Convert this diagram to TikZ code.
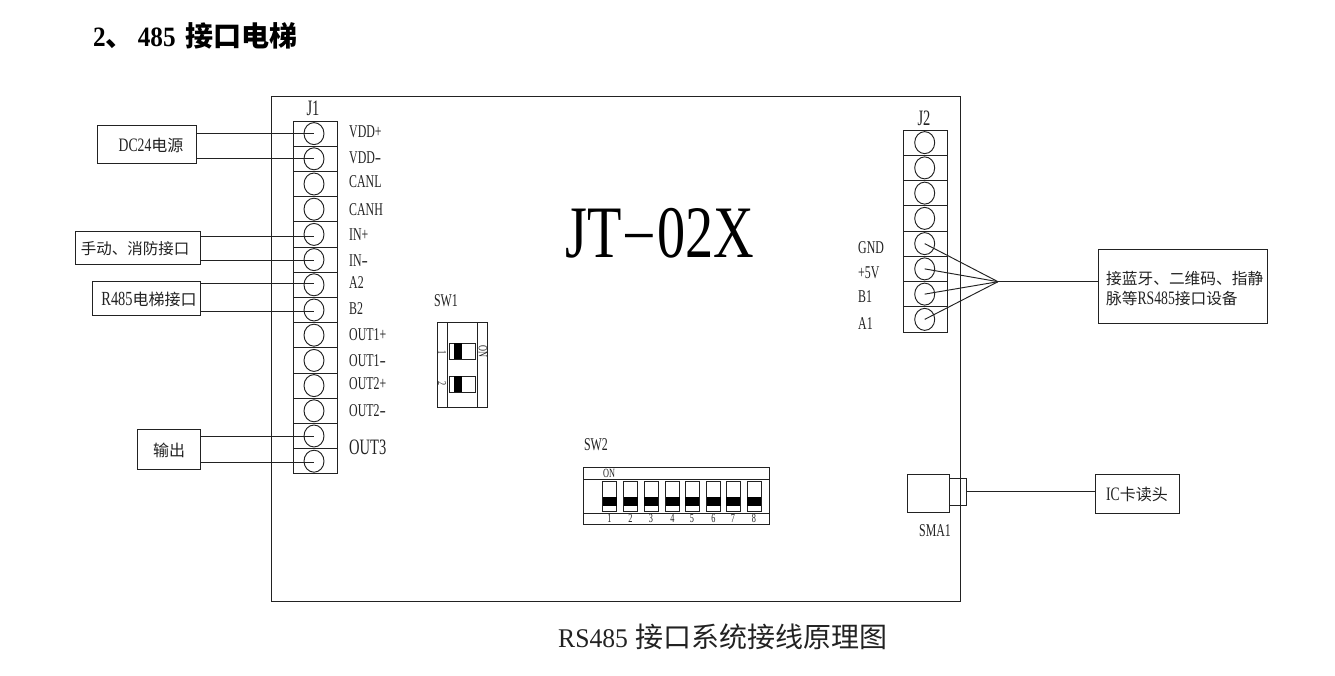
\documentclass[tikz,border=0pt]{standalone}
\usepackage{fontspec}
\usepackage{graphicx}
\usetikzlibrary{shapes.geometric}
\setmainfont{Liberation Serif}
\newfontfamily\latf[FakeStretch=0.66]{Liberation Serif}
\newfontfamily\latm[FakeStretch=0.72]{Liberation Serif}
\newfontfamily\latt[FakeStretch=0.76]{Liberation Serif}
\newfontfamily\latc[FakeStretch=0.95]{Liberation Serif}
\newfontfamily\latb[FakeStretch=0.9]{Liberation Serif}
\newfontfamily\cjkf{Noto Sans CJK SC}
\newcommand{\fsz}[1]{\fontsize{#1}{#1}\selectfont}
\newcommand{\wdash}[1]{\scalebox{#1}[1]{-}}
\definecolor{ink}{HTML}{222222}
\tikzset{
  x=1pt,y=-1pt,
  ln/.style={line width=0.95pt,draw=ink},
  box/.style={ln,rectangle,inner sep=0pt,fill=none},
  term/.style={ln,ellipse,inner sep=0pt,minimum width=20pt,minimum height=22pt},
  lab/.style={inner sep=0pt,text=ink,font=\latf\fsz{18}},
  cn/.style={inner sep=0pt,text=ink},
  tiny/.style={inner sep=0pt,text=ink,font=\latf\fsz{12.5}},
  wire/.style={ln},
  knob/.style={fill=black,draw=none,inner sep=0pt,rectangle},
}
\begin{document}
\begin{tikzpicture}
\useasboundingbox (0,0) rectangle (1335,675);
\node[inner sep=0pt,anchor=west,text=black] (title) at (93,36) {\fsz{28}{\latb\bfseries 2}{\cjkf\bfseries 、}\kern4pt{\latb\bfseries 485 }\kern4pt{\cjkf\bfseries 接口电梯}};

% board
\node[box,minimum width=688.5pt,minimum height=505pt] (board) at (616,348.5) {};
\node[inner sep=0pt,text=black,anchor=base,font=\latt\fsz{74}] (model) at (660,257) {JT\raisebox{11pt}{\scalebox{1.9}[0.6]{-}}02X};
\node[cn,anchor=west] (caption) at (558,637) {\fsz{27}{\latc RS485 }\kern1pt\fsz{28}{\cjkf 接口系统接线原理图}};

% J1
\node[lab,font=\latf\fsz{22}] (j1name) at (313,108) {J1};
\foreach \i in {1,...,14}{
  \pgfmathsetmacro{\yc}{121+25.2*(\i-0.5)}
  \node[box,minimum width=44pt,minimum height=25.2pt] (jr\i) at (315,\yc) {};
  \node[term] (a\i) at (314,\yc) {};
}
\node[lab,anchor=west] (l1) at (349,132) {VDD+};
\node[lab,anchor=west] (l2) at (349,158) {VDD\wdash{1.6}};
\node[lab,anchor=west] (l3) at (349,182) {CANL};
\node[lab,anchor=west] (l4) at (349,210) {CANH};
\node[lab,anchor=west] (l5) at (349,235) {IN+};
\node[lab,anchor=west] (l6) at (349,261) {IN\wdash{1.6}};
\node[lab,anchor=west] (l7) at (349,283) {A2};
\node[lab,anchor=west] (l8) at (349,309) {B2};
\node[lab,anchor=west] (l9) at (349,335) {OUT1+};
\node[lab,anchor=west] (l10) at (349,361) {OUT1\wdash{1.6}};
\node[lab,anchor=west] (l11) at (349,384) {OUT2+};
\node[lab,anchor=west] (l12) at (349,411) {OUT2\wdash{1.6}};
\node[lab,anchor=west,font=\latf\fsz{22}] (l13) at (349,447) {OUT3};

% external boxes, left
\node[box,minimum width=99pt,minimum height=38pt] (dc) at (146.5,144) {};
\node[cn] (dct) at (151,145) {\fsz{19}{\latm DC24}\fsz{16}{\cjkf 电源}};
\node[box,minimum width=125pt,minimum height=33pt] (man) at (137.5,248) {};
\node[cn] (mant) at (135,249) {\fsz{15.5}\cjkf 手动、消防接口};
\node[box,minimum width=108pt,minimum height=34pt] (r485) at (146,298) {};
\node[cn] (r485t) at (149,299) {\fsz{20}{\latm R485}\fsz{16}{\cjkf 电梯接口}};
\node[box,minimum width=63pt,minimum height=40pt] (outb) at (168.5,449) {};
\node[cn] (outt) at (169,450) {\fsz{16}\cjkf 输出};

\draw[wire] (dc.east |- 0,133) -- (a1.center |- 0,133);
\draw[wire] (dc.east |- 0,158.5) -- (a2.center |- 0,158.5);
\draw[wire] (man.east |- 0,236) -- (a5.center |- 0,236);
\draw[wire] (man.east |- 0,260) -- (a6.center |- 0,260);
\draw[wire] (r485.east |- 0,283.5) -- (a7.center |- 0,283.5);
\draw[wire] (r485.east |- 0,311) -- (a8.center |- 0,311);
\draw[wire] (outb.east |- 0,436) -- (a13.center |- 0,436);
\draw[wire] (outb.east |- 0,462.5) -- (a14.center |- 0,462.5);

% SW1
\node[lab,font=\latf\fsz{18}] (sw1n) at (446,301) {SW1};
\node[box,minimum width=50pt,minimum height=85pt] (sw1) at (462,364.5) {};
\draw[ln] (447.5,322) -- (447.5,407) (477,322) -- (477,407);
\foreach \y/\n in {351/1,384/2}{
  \node[box,minimum width=26pt,minimum height=16pt] (st\n) at (462,\y) {};
  \node[knob,minimum width=8pt,minimum height=16pt] (sk\n) at (458,\y) {};
}
\node[tiny,rotate=-90] (sn1) at (442,353) {1};
\node[tiny,rotate=-90] (sn2) at (442,384) {2};
\node[tiny,rotate=-90] (son) at (483,351) {ON};

% SW2
\node[lab,font=\latf\fsz{18}] (sw2n) at (596,445) {SW2};
\node[box,minimum width=186pt,minimum height=57pt] (sw2) at (676,495.5) {};
\draw[ln] (583,479) -- (769,479) (583,513) -- (769,513);
\node[tiny] (on2) at (609,473) {ON};
\foreach \x/\n in {609.5/1,630.5/2,651/3,672.5/4,692/5,713.5/6,733/7,754/8}{
  \node[box,minimum width=14pt,minimum height=30pt] (t\n) at (\x,496) {};
  \node[knob,minimum width=14pt,minimum height=9pt] (k\n) at (\x,501.5) {};
  \node[tiny] (n\n) at (\x,518.5) {\n};
}

% J2
\node[lab,font=\latf\fsz{22}] (j2name) at (924,118) {J2};
\foreach \i in {1,...,8}{
  \pgfmathsetmacro{\yc}{130+25.25*(\i-0.5)}
  \node[box,minimum width=44pt,minimum height=25.25pt] (br\i) at (925.5,\yc) {};
  \node[term] (b\i) at (924.7,\yc) {};
}
\node[lab,anchor=west] (g1) at (858,248) {GND};
\node[lab,anchor=west] (g2) at (858,273) {+5V};
\node[lab,anchor=west] (g3) at (858,297) {B1};
\node[lab,anchor=west] (g4) at (858,324) {A1};

\coordinate (hub) at (998,281.7);
\node[box,minimum width=169.5pt,minimum height=74pt] (dev) at (1182.75,286) {};
\node[cn,align=left,anchor=west] (devt) at (1106,288.5) {\fsz{15.7}{\cjkf 接蓝牙、二维码、指静}\\[4pt]\fsz{15.7}{\cjkf 脉等}\fsz{19}{\latm RS485}\fsz{15.7}{\cjkf 接口设备}};
\draw[wire] (b5.center) -- (hub);
\draw[wire] (b6.center) -- (hub);
\draw[wire] (b7.center) -- (hub);
\draw[wire] (b8.center) -- (hub);
\draw[wire] (hub) -- (dev.west |- hub);

% SMA1
\node[box,minimum width=42pt,minimum height=38pt] (sma) at (928,493) {};
\node[box,minimum width=17pt,minimum height=27pt] (smap) at (957.5,491.5) {};
\node[lab,font=\latf\fsz{18}] (sman) at (935,531) {SMA1};
\node[box,minimum width=84pt,minimum height=39pt] (ic) at (1137,493.5) {};
\node[cn] (ict) at (1137,494) {\fsz{19}{\latm IC}\fsz{16}{\cjkf 卡读头}};
\draw[wire] (smap.east) -- (ic.west |- smap.east);
\end{tikzpicture}
\end{document}
